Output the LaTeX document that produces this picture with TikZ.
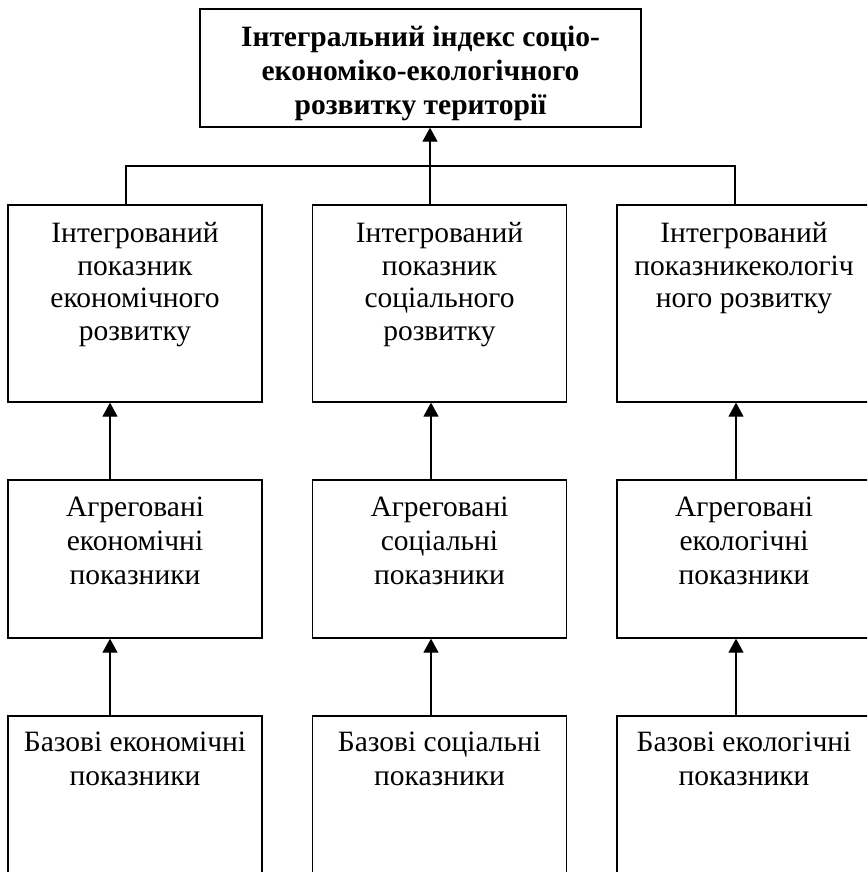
\documentclass[tikz,border=0pt]{standalone}
\usepackage{fontspec}
\setmainfont{Liberation Serif}
\usetikzlibrary{arrows.meta}
\begin{document}
\begin{tikzpicture}[x=1pt,y=-1pt,
  box/.style={draw, line width=1.3pt, inner sep=0pt, minimum width=254pt},
  lbl/.style={anchor=north, inner sep=0pt, align=center, font=\fontsize{29.5}{34}\selectfont},
  lblA/.style={lbl, font=\fontsize{29.5}{32.5}\selectfont},
  tlbl/.style={lbl, font=\bfseries\fontsize{29.5}{34}\selectfont},
  conn/.style={line width=1.3pt},
  arr/.style={conn, -{Triangle[length=14pt,width=15pt]}}]
\useasboundingbox (0,0) rectangle (867,872);
\clip (0,0) rectangle (867,872);
% boxes
\node[box, minimum width=441pt, minimum height=118pt] (top) at (420.5,68) {};
\node[box, minimum height=197pt] (e1) at (135,303.5) {};
\node[box, minimum height=197pt] (s1) at (439.5,303.5) {};
\node[box, minimum height=197pt] (c1) at (744,303.5) {};
\node[box, minimum height=158pt] (e2) at (135,559) {};
\node[box, minimum height=158pt] (s2) at (439.5,559) {};
\node[box, minimum height=158pt] (c2) at (744,559) {};
\node[box, minimum height=190pt] (e3) at (135,811) {};
\node[box, minimum height=190pt] (s3) at (439.5,811) {};
\node[box, minimum height=190pt] (c3) at (744,811) {};
% texts
\node[tlbl] (ttop) at ([yshift=-17pt]top.north) {Інтегральний індекс соціо-\\економіко-екологічного\\розвитку території};
\node[lblA] (te1) at ([yshift=-18pt]e1.north) {Інтегрований\\показник\\економічного\\розвитку};
\node[lblA] (ts1) at ([yshift=-18pt]s1.north) {Інтегрований\\показник\\соціального\\розвитку};
\node[lblA] (tc1) at ([yshift=-18pt]c1.north) {Інтегрований\\показникекологіч\\ного розвитку};
\node[lbl] (te2) at ([yshift=-17pt]e2.north) {Агреговані\\економічні\\показники};
\node[lbl] (ts2) at ([yshift=-17pt]s2.north) {Агреговані\\соціальні\\показники};
\node[lbl] (tc2) at ([yshift=-17pt]c2.north) {Агреговані\\екологічні\\показники};
\node[lbl] (te3) at ([yshift=-16pt]e3.north) {Базові економічні\\показники};
\node[lbl] (ts3) at ([yshift=-16pt]s3.north) {Базові соціальні\\показники};
\node[lbl] (tc3) at ([yshift=-16pt]c3.north) {Базові екологічні\\показники};
% connector coordinates
\coordinate (hl) at (126,166);
\coordinate (hr) at (735,166);
\coordinate (hm) at (430,166);
\coordinate (xl) at (110,0);
\coordinate (xm) at (431,0);
\coordinate (xr) at (736,0);
% top level
\draw[conn] (e1.north -| hl) -- (hl) -- (hr) -- (c1.north -| hr);
\draw[conn] (s1.north -| hm) -- (hm);
\draw[arr] (hm) -- (hm |- top.south);
% column arrows
\draw[arr] (e2.north -| xl) -- (e1.south -| xl);
\draw[arr] (e3.north -| xl) -- (e2.south -| xl);
\draw[arr] (s2.north -| xm) -- (s1.south -| xm);
\draw[arr] (s3.north -| xm) -- (s2.south -| xm);
\draw[arr] (c2.north -| xr) -- (c1.south -| xr);
\draw[arr] (c3.north -| xr) -- (c2.south -| xr);
\end{tikzpicture}
\end{document}
